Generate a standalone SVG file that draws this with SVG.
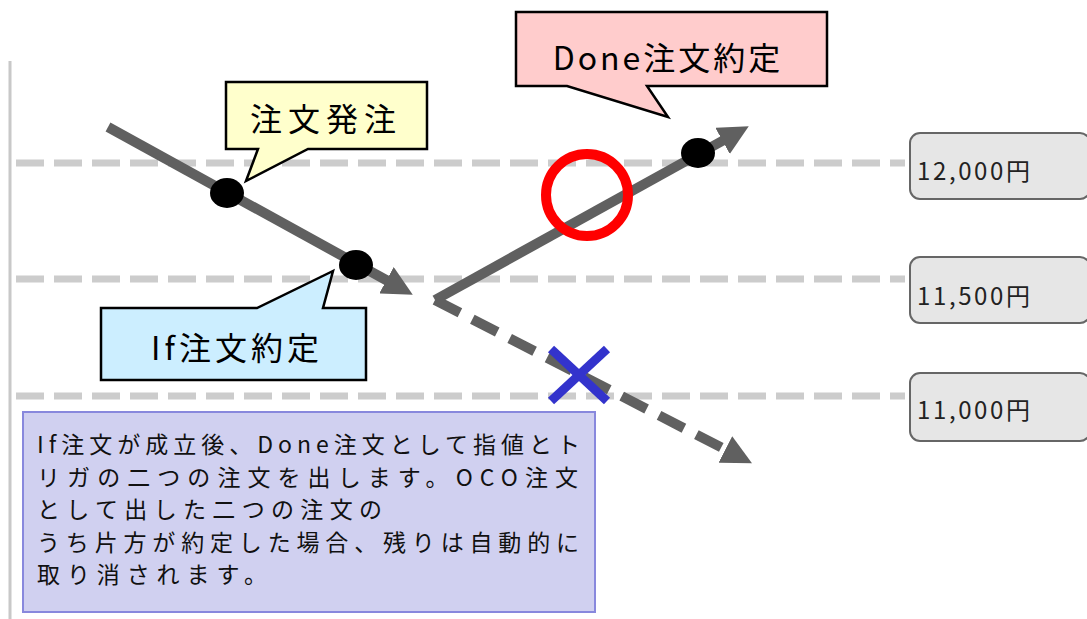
<svg xmlns="http://www.w3.org/2000/svg" width="1087" height="619" viewBox="0 0 1087 619">
<style>
.grid{stroke:#cccccc;stroke-width:7;stroke-dasharray:28 10;fill:none}
.trend{stroke:#606060;stroke-width:10;fill:none}
.dot{fill:#000}
.callout{stroke:#000;stroke-width:2.5;stroke-linejoin:miter}
.ctext{font-family:"Noto Sans CJK JP","Noto Sans",sans-serif;font-size:32px;fill:#000;text-anchor:middle}
.price rect{fill:#e6e6e6;stroke:#666;stroke-width:2}
.price text{font-family:"Noto Sans CJK JP","Noto Sans",sans-serif;font-size:24px;fill:#222}
.desc text{font-family:"Noto Sans CJK JP","Noto Sans",sans-serif;font-size:23px;fill:#111}
</style>
<defs>
<marker id="ah" viewBox="0 0 10 10" refX="4" refY="5" markerWidth="3" markerHeight="3" orient="auto" markerUnits="strokeWidth">
<path d="M0,0 L10,5 L0,10 Z" fill="#606060" stroke="none"/>
</marker>
</defs>
<rect width="1087" height="619" fill="#fff"/>
<line x1="10" y1="61" x2="10" y2="619" stroke="#c8c8c8" stroke-width="3"/>
<g id="gridlines">
<line class="grid" x1="16" y1="163" x2="905" y2="163"/>
<line class="grid" x1="16" y1="279" x2="905" y2="279"/>
<line class="grid" x1="16" y1="396" x2="905" y2="396"/>
</g>
<g id="connectors">
<path class="trend" d="M108,127 L397,286" marker-end="url(#ah)"/>
<path class="trend" d="M435,300 L733,135" marker-end="url(#ah)"/>
<path class="trend" d="M435,300 L736,455" stroke-dasharray="28 14" marker-end="url(#ah)"/>
</g>
<g id="dots">
<ellipse class="dot" cx="227" cy="193" rx="17" ry="15"/>
<ellipse class="dot" cx="356" cy="265" rx="17" ry="15"/>
<ellipse class="dot" cx="698" cy="153" rx="17" ry="15"/>
</g>
<g id="ok-mark">
<circle cx="587" cy="195" r="41" fill="none" stroke="#ff0000" stroke-width="10"/>
</g>
<g id="cancel-mark" stroke="#3333cc" stroke-width="9">
<line x1="551" y1="349" x2="607" y2="401"/>
<line x1="551" y1="401" x2="607" y2="349"/>
</g>
<g id="node-order">
<path class="callout" fill="#ffffcc" d="M226,82 H427 V149 H308 L246,181 L258,149 H226 Z"/>
<text class="ctext" x="326" y="131" letter-spacing="6">注文発注</text>
</g>
<g id="node-if">
<path class="callout" fill="#cceeff" d="M101,308 H257 L333,271 L323,308 H366 V380 H101 Z"/>
<text class="ctext" x="237" y="360" letter-spacing="4">If注文約定</text>
</g>
<g id="node-done">
<path class="callout" fill="#ffcccc" d="M516,12 H827 V86 H647 L668,117 L567,86 H516 Z"/>
<text class="ctext" x="668" y="70" letter-spacing="3">Done注文約定</text>
</g>
<g id="price-12000" class="price">
<rect x="910" y="133" width="180" height="66" rx="10"/>
<text x="917" y="180" textLength="113" lengthAdjust="spacing">12,000円</text>
</g>
<g id="price-11500" class="price">
<rect x="910" y="257" width="180" height="66" rx="10"/>
<text x="917" y="305" textLength="113" lengthAdjust="spacing">11,500円</text>
</g>
<g id="price-11000" class="price">
<rect x="910" y="373" width="180" height="68" rx="10"/>
<text x="917" y="419" textLength="113" lengthAdjust="spacing">11,000円</text>
</g>
<g id="description" class="desc">
<rect x="23" y="412" width="572" height="200" fill="#d0d0f0" stroke="#8888dd" stroke-width="2"/>
<text x="37" y="453" textLength="543" lengthAdjust="spacing">If注文が成立後、Done注文として指値とト</text>
<text x="37" y="486" textLength="541" lengthAdjust="spacing">リガの二つの注文を出します。OCO注文</text>
<text x="37" y="518" textLength="345" lengthAdjust="spacing">として出した二つの注文の</text>
<text x="37" y="551" textLength="542" lengthAdjust="spacing">うち片方が約定した場合、残りは自動的に</text>
<text x="37" y="583" textLength="230" lengthAdjust="spacing">取り消されます。</text>
</g>
</svg>
